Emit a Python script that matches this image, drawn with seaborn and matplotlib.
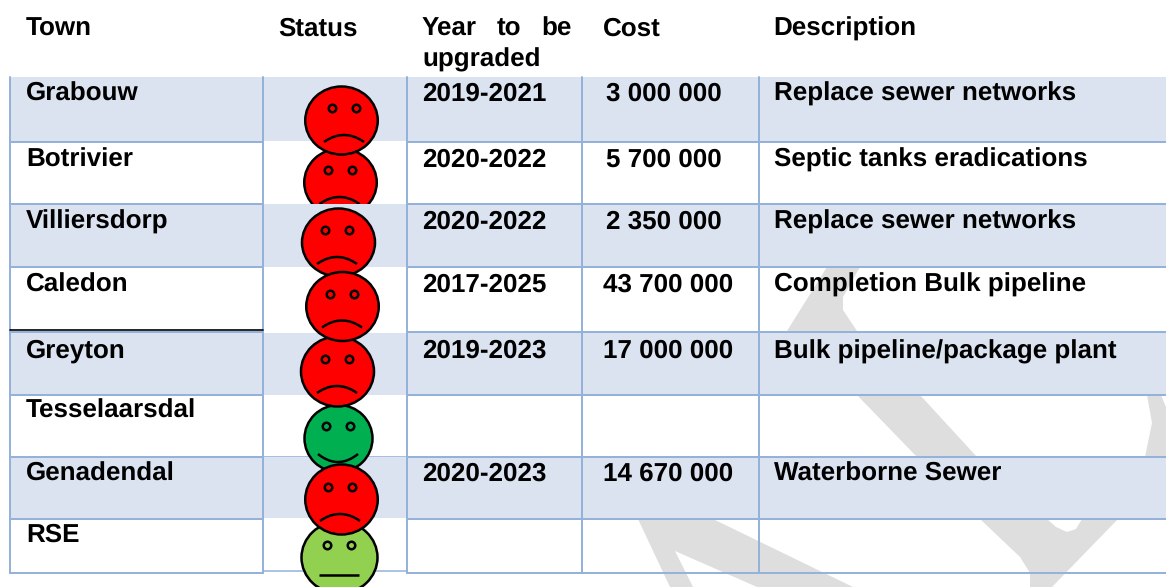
import numpy as np
import matplotlib
matplotlib.use('Agg')
import matplotlib.pyplot as plt
from matplotlib.markers import MarkerStyle
from matplotlib.patches import Polygon, Rectangle
from matplotlib.transforms import Affine2D
import seaborn as sns

# table content
towns = ['Grabouw', 'Botrivier', 'Villiersdorp', 'Caledon', 'Greyton', 'Tesselaarsdal', 'Genadendal', 'RSE']
status = ['bad', 'bad', 'bad', 'bad', 'bad', 'good', 'bad', 'ok']
years = ['2019-2021', '2020-2022', '2020-2022', '2017-2025', '2019-2023', '', '2020-2023', '']
costs = ['3 000 000', '5 700 000', '2 350 000', '43 700 000', '17 000 000', '', '14 670 000', '']
descriptions = ['Replace sewer networks', 'Septic tanks eradications', 'Replace sewer networks',
                'Completion Bulk pipeline', 'Bulk pipeline/package plant', '', 'Waterborne Sewer', '']

# layout, in pixels of the original picture
col_x = [10, 263, 407, 582, 759]
row_y = [77, 142, 204, 267, 332, 395, 457, 519, 573]
baselines = [101, 166.5, 229, 292, 358, 418, 481, 542]
cost_x = [606, 606, 606, 603, 603, 603, 603, 603]
face_x = [341, 339.5, 337.5, 342, 337, 338, 340.5, 339]
face_y = [120, 182, 242, 305.5, 371, 438, 499, 557]
face_w = [74.5, 74.5, 75, 74.5, 75, 70, 74.5, 78]
face_h = [70, 70, 70, 71, 72, 69, 72, 74]
eye_cx = [344, 339.5, 337, 342, 337, 338, 340, 339]
draw_order = [1, 0, 2, 5, 4, 3, 7, 6]

status_colors = {'bad': '#FF0000', 'good': '#00B050', 'ok': '#92D050'}
line_color = '#93B1D9'
band_color = '#DBE3F0'
water_color = '#DEDEDE'

# pieces of the grey watermark that show through the white rows
watermark = [
    [(827, 267), (860, 267), (843, 297), (843, 310), (857, 331), (787, 331)],
    [(857, 395), (920, 395), (977, 457), (917, 457)],
    [(1147, 395), (1161, 395), (1166, 407), (1166, 457), (1145, 457), (1152, 423)],
    [(980, 519), (1047, 519), (1056, 527), (1067, 532), (1076, 529), (1082, 519), (1118, 519),
     (1052, 587), (1030, 587), (1030, 573), (1020, 557)],
    [(638, 519), (670, 587), (693, 587), (675, 551), (757, 587), (853, 587), (713, 519)],
]

sns.set_theme(style='white')
plt.rcParams['font.family'] = ['Liberation Sans', 'DejaVu Sans']
plt.rcParams['text.hinting'] = 'no_hinting'

fig = plt.figure(figsize=(11.66, 5.87), dpi=100)
ax = fig.add_axes([0, 0, 1, 1])

for piece in watermark:
    ax.add_patch(Polygon(piece, closed=True, fc=water_color, ec='none', zorder=0.5))

# blue bands on every other row, the status column has its own slightly offset ones
for i in range(0, 8, 2):
    ax.add_patch(Rectangle((col_x[0], row_y[i]), col_x[1] - col_x[0], row_y[i + 1] - row_y[i],
                           fc=band_color, ec='none', zorder=1))
    ax.add_patch(Rectangle((col_x[2], row_y[i]), 1166 - col_x[2], row_y[i + 1] - row_y[i],
                           fc=band_color, ec='none', zorder=1))
status_bands = [(77, 141), (204, 267), (333, 395), (456, 518)]
for top, bottom in status_bands:
    ax.add_patch(Rectangle((col_x[1], top), col_x[2] - col_x[1], bottom - top,
                           fc=band_color, ec='none', zorder=3))

# grid
for y in row_y[1:]:
    ax.plot([col_x[0], col_x[1]], [y, y], color=line_color, lw=1.4, zorder=2)
    ax.plot([col_x[2], 1166], [y, y], color=line_color, lw=1.4, zorder=2)
ax.plot([col_x[1], col_x[2]], [571, 571], color=line_color, lw=1.1, zorder=3.5)
ax.plot([col_x[1], col_x[2]], [456, 456], color=line_color, lw=0.5, zorder=3.5)
for x in col_x:
    ax.plot([x, x], [row_y[0], row_y[-1]], color=line_color, lw=1.4, zorder=3.5)
ax.plot([col_x[0], col_x[1]], [330, 330], color='black', lw=1.2, zorder=3.5)

# header
fs = 18.7
head = dict(fontsize=fs, fontweight='bold', color='black', va='baseline', ha='left', zorder=6)
ax.text(26, 36, 'Town', **head)
ax.text(278, 36, 'Status', **head)
ax.text(422, 36, 'Year', **head)
ax.text(497, 36, 'to', **head)
ax.text(541, 36, 'be', **head)
ax.text(422, 66, 'upgraded', **head)
ax.text(603, 36, 'Cost', **head)
ax.text(773.5, 36, 'Description', **head)

# rows
for i in range(len(towns)):
    ax.text(26, baselines[i], towns[i], **head)
    ax.text(422, baselines[i], years[i], **head)
    ax.text(cost_x[i], baselines[i], costs[i], **head)
    ax.text(773.5, baselines[i], descriptions[i], **head)

# smiley faces, Botrivier sits under the next row band
px = 72 / fig.dpi
for n, i in enumerate(draw_order):
    z = 2 if towns[i] == 'Botrivier' else 4 + n * 0.1
    col = status_colors[status[i]]
    w, h = face_w[i] - 2, face_h[i] - 2
    marker = MarkerStyle('o', transform=Affine2D().scale(1, h / w))
    sns.scatterplot(x=[face_x[i]], y=[face_y[i]], ax=ax, color=col, s=(w * px) ** 2, marker=marker,
                    edgecolor='black', linewidth=1.8, legend=False, zorder=z)
    sns.scatterplot(x=[eye_cx[i] - 12, eye_cx[i] + 12], y=[face_y[i] - 12] * 2, ax=ax, color=col, s=(7.5 * px) ** 2,
                    edgecolor='black', linewidth=1.8, legend=False, zorder=z + 0.01)
    t = np.linspace(-1, 1, 30)
    if status[i] == 'bad':
        mouth = face_y[i] + 15 + 7 * t ** 2
    elif status[i] == 'good':
        mouth = face_y[i] + 24 - 8 * t ** 2
    else:
        mouth = face_y[i] + 18 + 0 * t
    half = 20
    ax.plot(eye_cx[i] + half * t, mouth, color='black', lw=1.8, zorder=z + 0.01, solid_capstyle='butt')

ax.set_xlim(0, 1166)
ax.set_ylim(587, 0)
ax.axis('off')

plt.savefig('out.png', dpi=100)
